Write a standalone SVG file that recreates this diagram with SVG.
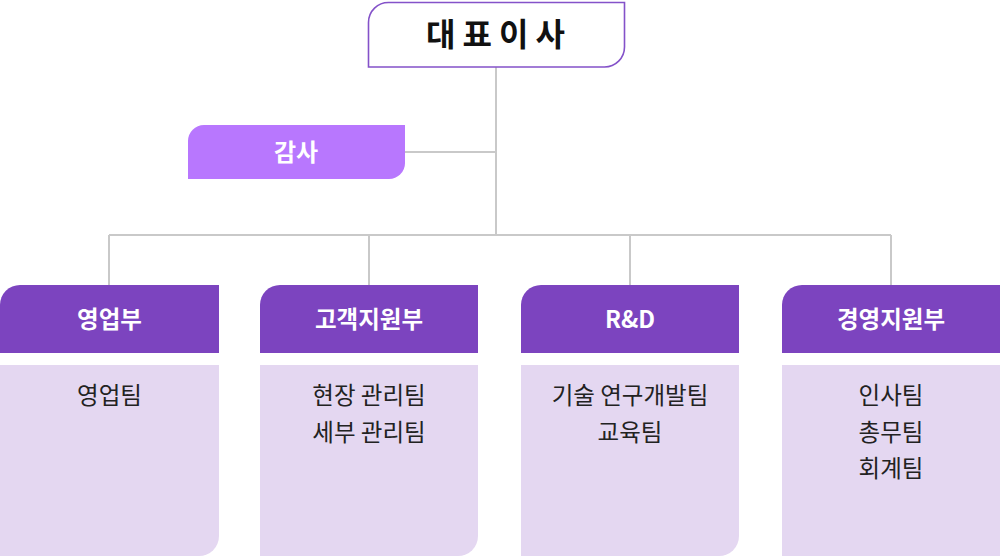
<svg xmlns="http://www.w3.org/2000/svg" width="1000" height="556" viewBox="0 0 1000 556">
<style>
.ln{stroke:#c9c9c9;stroke-width:2;fill:none}
.hd{fill:#7c44bf}
.bd{fill:#e4d7f1}
.ht{font-family:"Noto Sans CJK KR","Noto Sans",sans-serif;font-size:23.5px;font-weight:700;fill:#fff;text-anchor:middle}
.bt{font-family:"Noto Sans CJK KR","Noto Sans",sans-serif;font-size:23.5px;font-weight:400;fill:#222;text-anchor:middle}
</style>
<rect width="1000" height="556" fill="#fff"/>
<g id="connectors">
<path class="ln" d="M496 67V235M109 235H891M109 235V285M369 235V285M630 235V285M891 235V285M405 152H496"/>
</g>
<g id="ceo">
<path d="M389 2.5H624.5V47A20 20 0 0 1 604.5 67H368.5V22.5A20 20 0 0 1 389 2.5Z" fill="#fff" stroke="#8452c9" stroke-width="1.6"/>
<text x="499" y="46" font-family="'Noto Sans CJK KR','Noto Sans',sans-serif" font-size="32" font-weight="700" fill="#111" text-anchor="middle" letter-spacing="7">대표이사</text>
</g>
<g id="audit">
<path d="M204 125H405V163A16 16 0 0 1 389 179H188V141A16 16 0 0 1 204 125Z" fill="#b877fe"/>
<text x="296" y="161" font-family="'Noto Sans CJK KR','Noto Sans',sans-serif" font-size="24" font-weight="700" fill="#fff" text-anchor="middle">감사</text>
</g>
<g id="sales">
<path class="hd" d="M20 285H219V353H0V305A20 20 0 0 1 20 285Z"/>
<text class="ht" x="109.5" y="328">영업부</text>
<path class="bd" d="M0 365H219V536A20 20 0 0 1 199 556H0Z"/>
<text class="bt" x="109.5" y="404">영업팀</text>
</g>
<g id="cs">
<path class="hd" d="M280 285H478V353H260V305A20 20 0 0 1 280 285Z"/>
<text class="ht" x="369" y="328">고객지원부</text>
<path class="bd" d="M260 365H478V536A20 20 0 0 1 458 556H260Z"/>
<text class="bt" x="369" y="404">현장 관리팀</text>
<text class="bt" x="369" y="441">세부 관리팀</text>
</g>
<g id="rnd">
<path class="hd" d="M541 285H739V353H521V305A20 20 0 0 1 541 285Z"/>
<text class="ht" x="630" y="328">R&amp;D</text>
<path class="bd" d="M521 365H739V536A20 20 0 0 1 719 556H521Z"/>
<text class="bt" x="630" y="404">기술 연구개발팀</text>
<text class="bt" x="630" y="441">교육팀</text>
</g>
<g id="mgmt">
<path class="hd" d="M802 285H1000V353H782V305A20 20 0 0 1 802 285Z"/>
<text class="ht" x="891" y="328">경영지원부</text>
<path class="bd" d="M782 365H1000V556H782Z"/>
<text class="bt" x="891" y="404">인사팀</text>
<text class="bt" x="891" y="441">총무팀</text>
<text class="bt" x="891" y="477">회계팀</text>
</g>
</svg>
